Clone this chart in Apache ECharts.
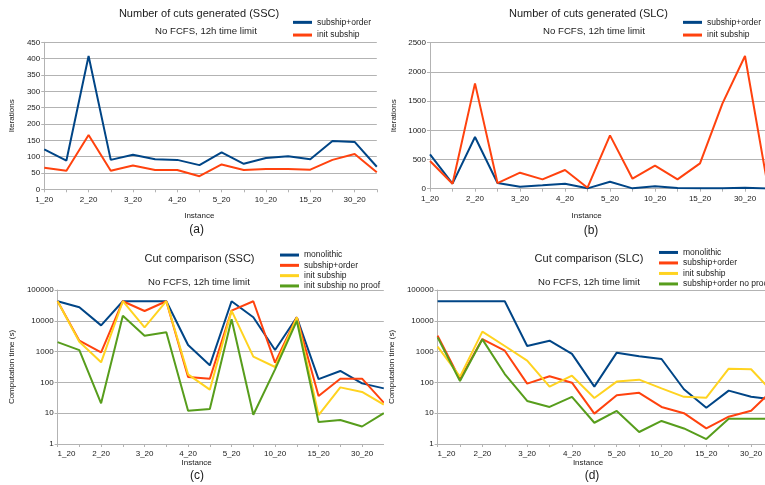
<!DOCTYPE html>
<html><head><meta charset="utf-8">
<script src="https://cdn.jsdelivr.net/npm/echarts@6/dist/echarts.min.js"></script>
<style>
html,body{margin:0;padding:0;width:765px;height:485px;overflow:hidden;background:#fff;position:relative}
.c{position:absolute}
</style></head><body>
<div id="a" class="c" style="left:0;top:0;width:380px;height:240px"></div>
<div id="b" class="c" style="left:380px;top:0;width:395px;height:240px"></div>
<div id="c" class="c" style="left:0;top:240px;width:384px;height:245px"></div>
<div id="d" class="c" style="left:380px;top:240px;width:400px;height:245px"></div>
<script>
const categories = ['1_20','1_40','2_20','2_40','3_20','3_40','4_20','4_40','5_20','5_40','10_20','10_40','15_20','15_40','30_20','30_40'];

// (a) Number of cuts generated (SSC)
const sscCutsSubshipOrder = [122, 88, 408, 90, 106, 92, 90, 74, 113, 78, 96, 101, 92, 148, 145, 69];
const sscCutsInitSubship  = [66, 57, 166, 57, 73, 59, 59, 40, 76, 59, 62, 62, 60, 90, 108, 52];

// (b) Number of cuts generated (SLC)
const slcCutsSubshipOrder = [588, 86, 885, 97, 34, 57, 86, 6, 120, 6, 40, 11, 6, 6, 17, 2];
const slcCutsInitSubship  = [474, 86, 1804, 97, 274, 160, 320, 17, 913, 171, 394, 160, 434, 1461, 2272, 70];

// (c) Cut comparison (SSC), computation time (s)
const sscTimeMonolithic   = [43200, 27400, 7100, 43200, 43200, 43200, 1640, 358, 43200, 13000, 1130, 13000, 128, 235, 93, 64];
const sscTimeSubshipOrder = [43200, 2260, 946, 43200, 20800, 43200, 150, 132, 21400, 43200, 437, 13000, 36, 132, 132, 22];
const sscTimeInitSubship  = [43200, 2100, 448, 43200, 6150, 43200, 183, 58, 21400, 684, 316, 13000, 8.7, 69, 49, 19];
const sscTimeInitNoProof  = [2040, 1120, 21, 14700, 3290, 4220, 12, 13.7, 11200, 8.9, 265, 10000, 5.2, 6, 3.7, 10];

// (d) Cut comparison (SLC), computation time (s)
const slcTimeMonolithic   = [43200, 43200, 43200, 43200, 1520, 2260, 840, 73, 923, 702, 575, 60, 15, 54, 34, 28];
const slcTimeSubshipOrder = [3300, 126, 2560, 1070, 91, 158, 98, 9.7, 38, 46, 16, 10, 3.2, 7.7, 12, 60];
const slcTimeInitSubship  = [1450, 154, 4450, 1520, 510, 73, 165, 31, 106, 123, 64, 34, 32, 280, 268, 45];
const slcTimeSubOrdNoProof= [2900, 111, 2500, 187, 25, 16, 34, 4.9, 11.8, 2.45, 5.6, 3.2, 1.45, 6.6, 6.6, 6.6];

const BLUE = '#004586', RED = '#ff420e', YELLOW = '#ffd320', GREEN = '#579d1c';
const FONT = 'Liberation Sans';
const GRIDC = '#b3b3b3';
const TXT = '#1a1a1a';

function texts(list) {
  return list.map(t => ({
    type: 'text', x: t[0], y: t[1], silent: true,
    style: { text: t[2], font: t[3] + 'px "Liberation Sans"', fill: TXT, align: 'center', verticalAlign: 'middle' }
  }));
}

function line(name, data, color) {
  return { type: 'line', name: name, data: data, symbol: 'none', showSymbol: false,
    lineStyle: { width: 2, color: color }, itemStyle: { color: color }, emphasis: { disabled: true } };
}

function build(cfg) {
  const yAxis = cfg.log
    ? { type: 'log', logBase: 10, min: 1, max: 100000 }
    : { type: 'value', min: 0, max: cfg.max, interval: cfg.interval };
  Object.assign(yAxis, {
    name: cfg.yName, nameLocation: 'middle', nameGap: cfg.nameGap,
    nameTextStyle: { fontSize: 8, fontFamily: FONT, color: TXT },
    axisLine: { show: true, lineStyle: { color: GRIDC, width: 1 } },
    axisTick: { show: true, length: 3, lineStyle: { color: GRIDC } },
    splitLine: { show: true, lineStyle: { color: GRIDC, width: 1 } },
    minorTick: { show: false }, minorSplitLine: { show: false },
    axisLabel: { fontSize: 8, fontFamily: FONT, color: TXT, margin: 4,
      formatter: v => String(Math.round(v)) }
  });
  return {
    animation: false,
    grid: { left: cfg.grid[0], top: cfg.grid[1], width: cfg.grid[2], height: cfg.grid[3], containLabel: false },
    xAxis: {
      type: 'category', data: categories, boundaryGap: false,
      axisLine: { show: true, lineStyle: { color: GRIDC, width: 1 } },
      axisTick: { show: true, interval: 0, length: 3, lineStyle: { color: GRIDC } },
      splitLine: { show: false },
      axisLabel: { interval: 1, fontSize: 8, fontFamily: FONT, color: TXT, margin: 6,
        alignMinLabel: cfg.alignMin || 'center' }
    },
    yAxis: yAxis,
    legend: {
      orient: 'vertical', left: cfg.legend[0], top: cfg.legend[1], padding: 0,
      itemWidth: 19, itemHeight: 3, itemGap: 0, icon: 'rect', selectedMode: false,
      textStyle: { fontSize: 8.5, fontFamily: FONT, color: TXT, lineHeight: cfg.legend[2] },
      data: cfg.series.map(s => s.name)
    },
    graphic: texts(cfg.texts),
    series: cfg.series
  };
}

const charts = [
  ['a', {
    grid: [39.3, 42.3, 337.5, 147], max: 450, interval: 50, yName: 'Iterations', nameGap: 23,
    legend: [293, 16, 12.7],
    texts: [[199, 14, 'Number of cuts generated (SSC)', 11], [206, 31, 'No FCFS, 12h time limit', 9.6],
            [199.3, 216, 'Instance', 8], [196.7, 230, '(a)', 12]],
    series: [line('subship+order', sscCutsSubshipOrder, BLUE), line('init subship', sscCutsInitSubship, RED)]
  }],
  ['b', {
    grid: [50, 42.7, 337.5, 146], max: 2500, interval: 500, yName: 'Iterations', nameGap: 25,
    legend: [303, 16, 12.7],
    texts: [[208.5, 14, 'Number of cuts generated (SLC)', 11], [214, 31, 'No FCFS, 12h time limit', 9.6],
            [206.7, 216, 'Instance', 8], [211, 231, '(b)', 12]],
    series: [line('subship+order', slcCutsSubshipOrder, BLUE), line('init subship', slcCutsInitSubship, RED)]
  }],
  ['c', {
    grid: [46.3, 50, 337.5, 154], log: true, yName: 'Computation time (s)', nameGap: 30, alignMin: 'left',
    legend: [280, 9.9, 10.3],
    texts: [[199.5, 19.3, 'Cut comparison (SSC)', 11], [199, 42.3, 'No FCFS, 12h time limit', 9.6],
            [196.7, 222.7, 'Instance', 8], [197, 236, '(c)', 12]],
    series: [line('monolithic', sscTimeMonolithic, BLUE), line('subship+order', sscTimeSubshipOrder, RED),
             line('init subship', sscTimeInitSubship, YELLOW), line('init subship no proof', sscTimeInitNoProof, GREEN)]
  }],
  ['d', {
    grid: [56, 50, 337.5, 154], log: true, yName: 'Computation time (s)', nameGap: 31, alignMin: 'left',
    legend: [279, 7.2, 10.5],
    texts: [[209, 19.3, 'Cut comparison (SLC)', 11], [209, 42.3, 'No FCFS, 12h time limit', 9.6],
            [208, 222.7, 'Instance', 8], [212, 236, '(d)', 12]],
    series: [line('monolithic', slcTimeMonolithic, BLUE), line('subship+order', slcTimeSubshipOrder, RED),
             line('init subship', slcTimeInitSubship, YELLOW), line('subship+order no proof', slcTimeSubOrdNoProof, GREEN)]
  }]
];

charts.forEach(([id, cfg]) => {
  const ch = echarts.init(document.getElementById(id), null, { renderer: 'canvas' });
  ch.setOption(build(cfg));
});
</script>
</body></html>
